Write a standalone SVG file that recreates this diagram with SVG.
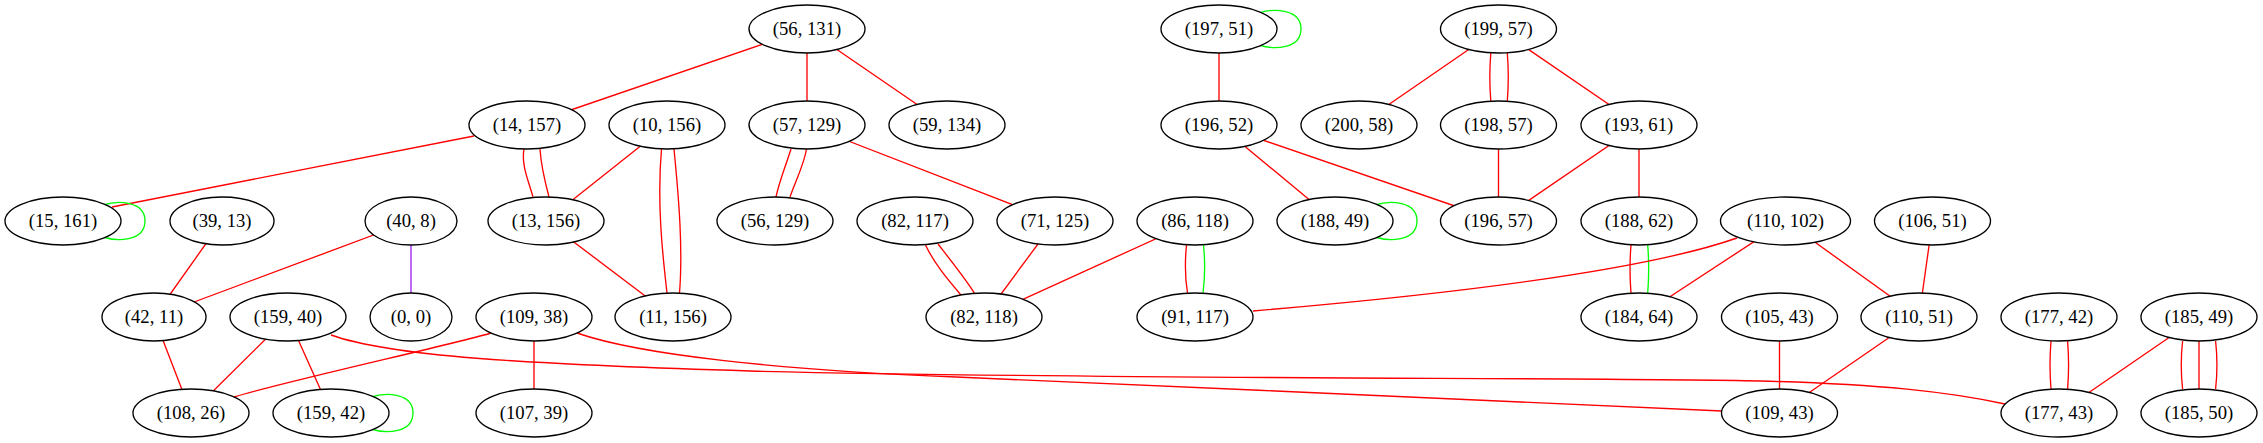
<svg xmlns="http://www.w3.org/2000/svg" width="2263" height="443" viewBox="0 0 2263 443">
<style>
.n ellipse{fill:#fff;stroke:#000;stroke-width:1.33}
.n text{font-family:"Liberation Serif","Times New Roman",serif;font-size:18.67px;text-anchor:middle;fill:#000}
.e path{fill:none;stroke:#ff0000;stroke-width:1.33}
.e path.g{stroke:#00ff00}
.e path.p{stroke:#a020f0}
</style>
<rect width="2263" height="443" fill="#fff"/>
<g id="edges" class="e">
<path d="M807,29L527,125"/>
<path d="M807,29L807,125"/>
<path d="M807,29L947,125"/>
<path d="M474,136L112,207"/>
<path d="M524,149C521,165 529,182 533,197"/>
<path d="M540,149C541,165 545,182 549,197"/>
<path d="M667,125L546,221"/>
<path d="M661.5,149C657,200 662,250 667,293"/>
<path d="M674,149C679,200 683,250 679.5,293"/>
<path d="M546,221L673,317"/>
<path d="M222,221L154,317"/>
<path d="M411,221L154,317"/>
<path class="p" d="M411,245L411,293"/>
<path d="M154,317L191,413"/>
<path d="M288,317L191,413"/>
<path d="M288,317L331,413"/>
<path d="M534,317L534,413"/>
<path d="M491,333C460,343 290,380 234,397"/>
<path d="M331,335C390,356 520,364 750,371C1100,380 1600,377 1760,381C1880,384 1950,392 2005,404"/>
<path d="M577,333C640,355 780,370 956,377C1200,387 1550,404 1722,411"/>
<path d="M791,149C786,165 779,182 776,197"/>
<path d="M806.5,149C804,165 795,182 790,197"/>
<path d="M807,125L1055,221"/>
<path d="M925.5,245C935,265 950,282 961,295"/>
<path d="M938,244C952,262 968,282 975.5,295"/>
<path d="M1055,221L984,317"/>
<path d="M1195,221L984,317"/>
<path d="M1186.5,245C1185,260 1185,278 1187.5,293"/>
<path class="g" d="M1203.5,245C1205,260 1205,278 1203,293"/>
<path d="M1219,29L1219,125"/>
<path d="M1219,125L1335,221"/>
<path d="M1219,125L1498.5,221"/>
<path d="M1498.5,29L1359,125"/>
<path d="M1490.8,53C1489.5,69 1489.5,85 1490.8,101"/>
<path d="M1507.3,53C1508.6,69 1508.6,85 1507.3,101"/>
<path d="M1498.5,29L1639,125"/>
<path d="M1498.5,125L1498.5,221"/>
<path d="M1639,125L1498.5,221"/>
<path d="M1639,125L1639,221"/>
<path d="M1631,245C1629.7,261 1629.7,277 1631,293"/>
<path class="g" d="M1647.7,245C1649,261 1649,277 1647.7,293"/>
<path d="M1737,238C1660,265 1500,290 1253,311"/>
<path d="M1785.5,221L1639,317"/>
<path d="M1785.5,221L1919,317"/>
<path d="M1932.5,221L1919,317"/>
<path d="M1779.5,317L1779.5,413"/>
<path d="M1919,317L1779.5,413"/>
<path d="M2051,341C2049.7,357 2049.7,373 2051,389"/>
<path d="M2067.6,341C2068.9,357 2068.9,373 2067.6,389"/>
<path d="M2199,317L2059,413"/>
<path d="M2182.6,341C2180.8,357 2180.8,373 2182.6,389"/>
<path d="M2199,341L2199,389"/>
<path d="M2215.6,341C2217.4,357 2217.4,373 2215.6,389"/>
<path class="g" d="M103,205C118,200 145,201 145,221C145,241 118,242 103,237"/>
<path class="g" d="M371,397C386,392 413,393 413,413C413,433 386,434 371,429"/>
<path class="g" d="M1259,13C1274,8 1301,9 1301,29C1301,49 1274,50 1259,45"/>
<path class="g" d="M1375,205C1390,200 1417,201 1417,221C1417,241 1390,242 1375,237"/>
</g>
<g id="n56_131" class="n"><ellipse cx="807" cy="29" rx="58" ry="24"/><text x="807" y="35">(56, 131)</text></g>
<g id="n197_51" class="n"><ellipse cx="1219" cy="29" rx="58" ry="24"/><text x="1219" y="35">(197, 51)</text></g>
<g id="n199_57" class="n"><ellipse cx="1498.5" cy="29" rx="58" ry="24"/><text x="1498.5" y="35">(199, 57)</text></g>
<g id="n14_157" class="n"><ellipse cx="527" cy="125" rx="58" ry="24"/><text x="527" y="131">(14, 157)</text></g>
<g id="n10_156" class="n"><ellipse cx="667" cy="125" rx="58" ry="24"/><text x="667" y="131">(10, 156)</text></g>
<g id="n57_129" class="n"><ellipse cx="807" cy="125" rx="58" ry="24"/><text x="807" y="131">(57, 129)</text></g>
<g id="n59_134" class="n"><ellipse cx="947" cy="125" rx="58" ry="24"/><text x="947" y="131">(59, 134)</text></g>
<g id="n196_52" class="n"><ellipse cx="1219" cy="125" rx="58" ry="24"/><text x="1219" y="131">(196, 52)</text></g>
<g id="n200_58" class="n"><ellipse cx="1359" cy="125" rx="58" ry="24"/><text x="1359" y="131">(200, 58)</text></g>
<g id="n198_57" class="n"><ellipse cx="1498.5" cy="125" rx="58" ry="24"/><text x="1498.5" y="131">(198, 57)</text></g>
<g id="n193_61" class="n"><ellipse cx="1639" cy="125" rx="58" ry="24"/><text x="1639" y="131">(193, 61)</text></g>
<g id="n15_161" class="n"><ellipse cx="63" cy="221" rx="58" ry="24"/><text x="63" y="227">(15, 161)</text></g>
<g id="n39_13" class="n"><ellipse cx="222" cy="221" rx="52" ry="24"/><text x="222" y="227">(39, 13)</text></g>
<g id="n40_8" class="n"><ellipse cx="411" cy="221" rx="46" ry="24"/><text x="411" y="227">(40, 8)</text></g>
<g id="n13_156" class="n"><ellipse cx="546" cy="221" rx="58" ry="24"/><text x="546" y="227">(13, 156)</text></g>
<g id="n56_129" class="n"><ellipse cx="775" cy="221" rx="58" ry="24"/><text x="775" y="227">(56, 129)</text></g>
<g id="n82_117" class="n"><ellipse cx="915" cy="221" rx="58" ry="24"/><text x="915" y="227">(82, 117)</text></g>
<g id="n71_125" class="n"><ellipse cx="1055" cy="221" rx="58" ry="24"/><text x="1055" y="227">(71, 125)</text></g>
<g id="n86_118" class="n"><ellipse cx="1195" cy="221" rx="58" ry="24"/><text x="1195" y="227">(86, 118)</text></g>
<g id="n188_49" class="n"><ellipse cx="1335" cy="221" rx="58" ry="24"/><text x="1335" y="227">(188, 49)</text></g>
<g id="n196_57" class="n"><ellipse cx="1498.5" cy="221" rx="58" ry="24"/><text x="1498.5" y="227">(196, 57)</text></g>
<g id="n188_62" class="n"><ellipse cx="1639" cy="221" rx="58" ry="24"/><text x="1639" y="227">(188, 62)</text></g>
<g id="n110_102" class="n"><ellipse cx="1785.5" cy="221" rx="65" ry="24"/><text x="1785.5" y="227">(110, 102)</text></g>
<g id="n106_51" class="n"><ellipse cx="1932.5" cy="221" rx="58" ry="24"/><text x="1932.5" y="227">(106, 51)</text></g>
<g id="n42_11" class="n"><ellipse cx="154" cy="317" rx="52" ry="24"/><text x="154" y="323">(42, 11)</text></g>
<g id="n159_40" class="n"><ellipse cx="288" cy="317" rx="58" ry="24"/><text x="288" y="323">(159, 40)</text></g>
<g id="n0_0" class="n"><ellipse cx="411" cy="317" rx="41" ry="24"/><text x="411" y="323">(0, 0)</text></g>
<g id="n109_38" class="n"><ellipse cx="534" cy="317" rx="58" ry="24"/><text x="534" y="323">(109, 38)</text></g>
<g id="n11_156" class="n"><ellipse cx="673" cy="317" rx="58" ry="24"/><text x="673" y="323">(11, 156)</text></g>
<g id="n82_118" class="n"><ellipse cx="984" cy="317" rx="58" ry="24"/><text x="984" y="323">(82, 118)</text></g>
<g id="n91_117" class="n"><ellipse cx="1195" cy="317" rx="58" ry="24"/><text x="1195" y="323">(91, 117)</text></g>
<g id="n184_64" class="n"><ellipse cx="1639" cy="317" rx="58" ry="24"/><text x="1639" y="323">(184, 64)</text></g>
<g id="n105_43" class="n"><ellipse cx="1779.5" cy="317" rx="58" ry="24"/><text x="1779.5" y="323">(105, 43)</text></g>
<g id="n110_51" class="n"><ellipse cx="1919" cy="317" rx="58" ry="24"/><text x="1919" y="323">(110, 51)</text></g>
<g id="n177_42" class="n"><ellipse cx="2059" cy="317" rx="58" ry="24"/><text x="2059" y="323">(177, 42)</text></g>
<g id="n185_49" class="n"><ellipse cx="2199" cy="317" rx="58" ry="24"/><text x="2199" y="323">(185, 49)</text></g>
<g id="n108_26" class="n"><ellipse cx="191" cy="413" rx="58" ry="24"/><text x="191" y="419">(108, 26)</text></g>
<g id="n159_42" class="n"><ellipse cx="331" cy="413" rx="58" ry="24"/><text x="331" y="419">(159, 42)</text></g>
<g id="n107_39" class="n"><ellipse cx="534" cy="413" rx="58" ry="24"/><text x="534" y="419">(107, 39)</text></g>
<g id="n109_43" class="n"><ellipse cx="1779.5" cy="413" rx="58" ry="24"/><text x="1779.5" y="419">(109, 43)</text></g>
<g id="n177_43" class="n"><ellipse cx="2059" cy="413" rx="58" ry="24"/><text x="2059" y="419">(177, 43)</text></g>
<g id="n185_50" class="n"><ellipse cx="2199" cy="413" rx="58" ry="24"/><text x="2199" y="419">(185, 50)</text></g>
</svg>
